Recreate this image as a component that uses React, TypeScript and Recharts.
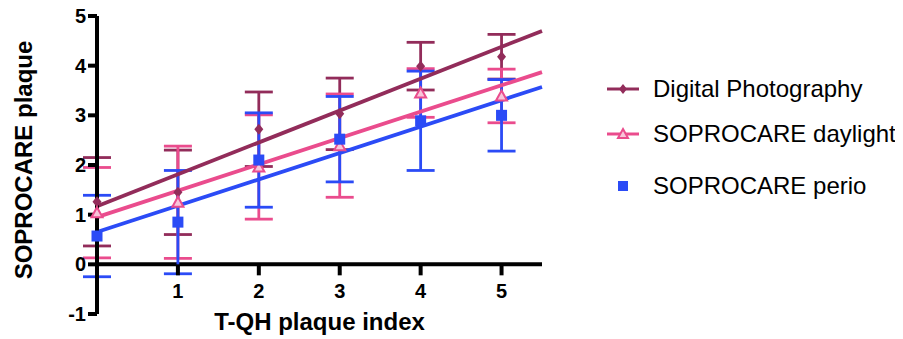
import React from 'react';
import { ComposedChart, Scatter, Line, XAxis, YAxis, ErrorBar, ReferenceLine } from 'recharts';

// ---- data ----
const xValues = [0, 1, 2, 3, 4, 5];
const xTicks = [1, 2, 3, 4, 5];
const yTicks = [-1, 0, 1, 2, 3, 4, 5];

const digitalMean = [1.26, 1.45, 2.72, 3.03, 3.99, 4.18];
const digitalErr = [0.89, 0.85, 0.75, 0.72, 0.48, 0.45];
const daylightMean = [1.04, 1.25, 1.96, 2.39, 3.45, 3.39];
const daylightErr = [0.91, 1.13, 1.05, 1.04, 0.49, 0.54];
const perioMean = [0.57, 0.85, 2.1, 2.52, 2.89, 3.0];
const perioErr = [0.82, 1.04, 0.95, 0.86, 1.0, 0.72];

const fitX = [0, 5.5];
const digitalFit = [1.17, 4.7];
const daylightFit = [0.95, 3.87];
const perioFit = [0.65, 3.57];

const seriesNames = ['Digital Photography', 'SOPROCARE daylight', 'SOPROCARE perio'];
const xTitle = 'T-QH plaque index';
const yTitle = 'SOPROCARE plaque';

// ---- styles ----
const FONT = '"Liberation Sans", Arial, Helvetica, sans-serif';
const C_DIGITAL = '#922C5A';
const C_DAYLIGHT = '#EA4C8D';
const C_PERIO = '#2B4BF6';
const W = 903;
const H = 339;
const MARGIN = { top: 16, right: 361, left: 8, bottom: 0 };
const Y_AXIS_W = 89;
const X_AXIS_H = 25;
const PLOT_H = H - MARGIN.top - MARGIN.bottom - X_AXIS_H;
const UNIT_PX = PLOT_H / 6; // distance from y=-1 (plot bottom) to y=0
const AXIS_W = 4;
const FIT_W = 3.8;
const ERR_W = 2.8;

const build = (means: number[], errs: number[]) =>
  xValues.map((x, i) => ({ x, y: means[i], err: errs[i] }));
const buildFit = (ys: number[]) => fitX.map((x, i) => ({ x, y: ys[i] }));

const digitalData = build(digitalMean, digitalErr);
const daylightData = build(daylightMean, daylightErr);
const perioData = build(perioMean, perioErr);

const Diamond = (p: any) => {
  const { cx, cy } = p;
  if (cx == null || cy == null) return null;
  return <path d={`M${cx},${cy - 5.5} L${cx + 4.5},${cy} L${cx},${cy + 5.5} L${cx - 4.5},${cy} Z`} fill={C_DIGITAL} />;
};
const Triangle = (p: any) => {
  const { cx, cy } = p;
  if (cx == null || cy == null) return null;
  return (
    <path
      d={`M${cx},${cy - 5.5} L${cx + 5.5},${cy + 4.5} L${cx - 5.5},${cy + 4.5} Z`}
      fill="#F8C6DA"
      stroke={C_DAYLIGHT}
      strokeWidth={2}
    />
  );
};
const Square = (p: any) => {
  const { cx, cy } = p;
  if (cx == null || cy == null) return null;
  return <rect x={cx - 5.5} y={cy - 5.5} width={11} height={11} fill={C_PERIO} />;
};

const XTick = (props: any) => {
  const { x, y, payload } = props;
  const y0 = y - UNIT_PX;
  return (
    <g>
      <line x1={x} x2={x} y1={y0} y2={y0 + 11} stroke="#000" strokeWidth={AXIS_W} />
      <text
        x={x}
        y={y0 + 26}
        dy="0.36em"
        textAnchor="middle"
        fill="#000"
        fontFamily={FONT}
        fontWeight="bold"
        fontSize={20}
      >
        {payload.value}
      </text>
    </g>
  );
};

const YLabel = (props: any) => {
  const vb = props.viewBox || {};
  const cy = (vb.y ?? 0) + (vb.height ?? 0) / 2 - 5;
  const cx = 23;
  return (
    <text
      x={cx}
      y={cy}
      transform={`rotate(-90, ${cx}, ${cy})`}
      textAnchor="middle"
      dy="0.36em"
      fill="#000"
      fontFamily={FONT}
      fontWeight="bold"
      fontSize={24}
    >
      {yTitle}
    </text>
  );
};

const LegendIcon = ({ i }: { i: number }) => {
  if (i === 0)
    return (
      <svg width={34} height={20}>
        <line x1={1} x2={33} y1={10} y2={10} stroke={C_DIGITAL} strokeWidth={3} />
        <path d="M17,5 L21,10 L17,15 L13,10 Z" fill={C_DIGITAL} />
      </svg>
    );
  if (i === 1)
    return (
      <svg width={34} height={20}>
        <line x1={1} x2={33} y1={10} y2={10} stroke={C_DAYLIGHT} strokeWidth={3} />
        <path d="M17,5 L22,14 L12,14 Z" fill="#F8C6DA" stroke={C_DAYLIGHT} strokeWidth={2} />
      </svg>
    );
  return (
    <svg width={34} height={20}>
      <rect x={12} y={5} width={10} height={10} fill={C_PERIO} />
    </svg>
  );
};

const legendRowTops = [74, 119, 171];

export default function App() {
  return (
    <div style={{ position: 'relative', width: W, height: H, margin: '-8px 0 0 -8px', fontFamily: FONT }}>
      <ComposedChart width={W} height={H} margin={MARGIN}>
        <XAxis
          dataKey="x"
          type="number"
          domain={[0, 5.5]}
          ticks={xTicks}
          axisLine={false}
          tickLine={false}
          tickSize={0}
          tickMargin={0}
          height={X_AXIS_H}
          tick={<XTick />}
          interval={0}
          label={{
            value: xTitle,
            position: 'insideBottom',
            offset: 9,
            fill: '#000',
            fontFamily: FONT,
            fontWeight: 'bold',
            fontSize: 24,
          }}
        />
        <YAxis
          type="number"
          domain={[-1, 5]}
          ticks={yTicks}
          width={Y_AXIS_W}
          axisLine={{ stroke: '#000', strokeWidth: AXIS_W }}
          tickLine={{ stroke: '#000', strokeWidth: AXIS_W }}
          tickSize={9}
          tickMargin={2}
          interval={0}
          tick={{ fill: '#000', fontFamily: FONT, fontWeight: 'bold', fontSize: 20 }}
          label={<YLabel />}
        />
        <ReferenceLine y={0} stroke="#000" strokeWidth={AXIS_W} />
        <Scatter name={seriesNames[0]} data={digitalData} dataKey="y" shape={<Diamond />} isAnimationActive={false}>
          <ErrorBar dataKey="err" direction="y" width={14} stroke={C_DIGITAL} strokeWidth={ERR_W} isAnimationActive={false} />
        </Scatter>
        <Scatter name={seriesNames[1]} data={daylightData} dataKey="y" shape={<Triangle />} isAnimationActive={false}>
          <ErrorBar dataKey="err" direction="y" width={14} stroke={C_DAYLIGHT} strokeWidth={ERR_W} isAnimationActive={false} />
        </Scatter>
        <Scatter name={seriesNames[2]} data={perioData} dataKey="y" shape={<Square />} isAnimationActive={false}>
          <ErrorBar dataKey="err" direction="y" width={14} stroke={C_PERIO} strokeWidth={ERR_W} isAnimationActive={false} />
        </Scatter>
        <Line data={buildFit(digitalFit)} dataKey="y" type="linear" stroke={C_DIGITAL} strokeWidth={FIT_W} dot={false} activeDot={false} isAnimationActive={false} legendType="none" />
        <Line data={buildFit(daylightFit)} dataKey="y" type="linear" stroke={C_DAYLIGHT} strokeWidth={FIT_W} dot={false} activeDot={false} isAnimationActive={false} legendType="none" />
        <Line data={buildFit(perioFit)} dataKey="y" type="linear" stroke={C_PERIO} strokeWidth={FIT_W} dot={false} activeDot={false} isAnimationActive={false} legendType="none" />
      </ComposedChart>
      <div style={{ position: 'absolute', left: 0, top: 0 }}>
        {seriesNames.map((name, i) => (
          <div
            key={name}
            style={{
              position: 'absolute',
              left: 606,
              top: legendRowTops[i],
              display: 'flex',
              alignItems: 'center',
              whiteSpace: 'nowrap',
              height: 30,
            }}
          >
            <LegendIcon i={i} />
            <span style={{ marginLeft: 13, fontSize: 24, color: '#000', fontFamily: FONT }}>{name}</span>
          </div>
        ))}
      </div>
    </div>
  );
}
